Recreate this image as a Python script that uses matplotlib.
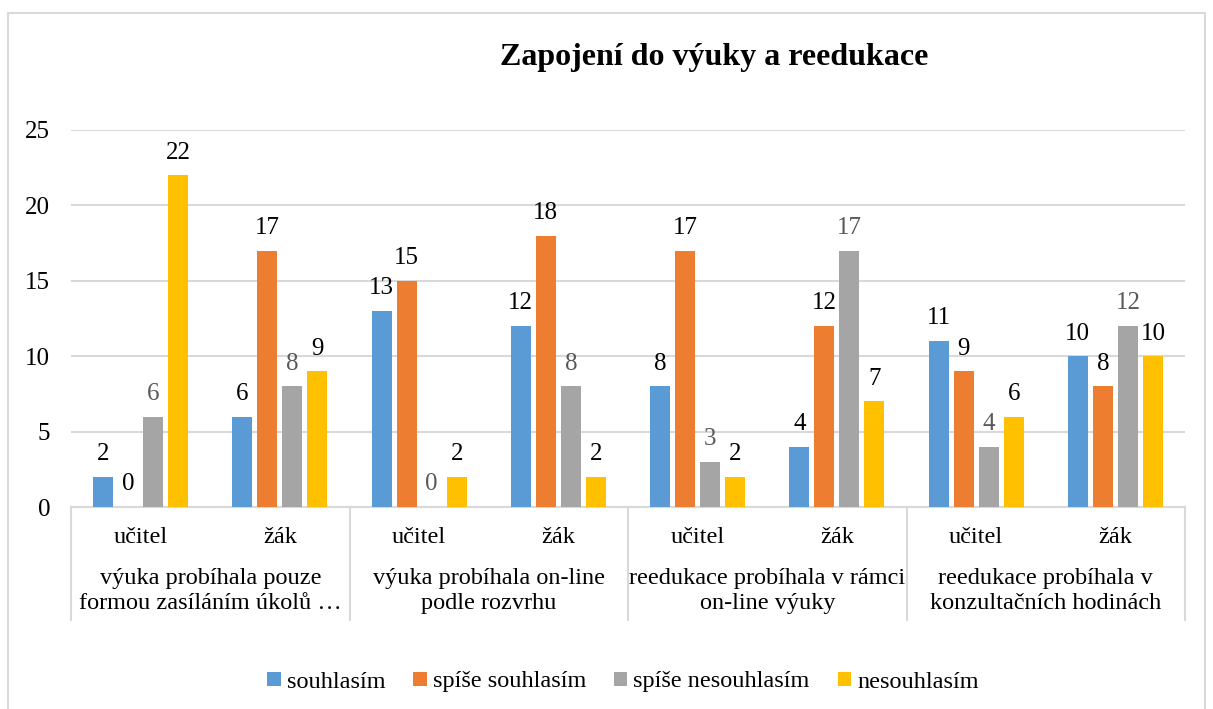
import numpy as np
import matplotlib
matplotlib.use('Agg')
import matplotlib.pyplot as plt
from matplotlib.patches import Rectangle
import matplotlib.transforms as mtransforms

plt.rcParams['font.family'] = ['Liberation Serif', 'DejaVu Serif']

#%% data
groups = ['výuka probíhala pouze\nformou zasíláním úkolů …',
          'výuka probíhala on-line\npodle rozvrhu',
          'reedukace probíhala v rámci\non-line výuky',
          'reedukace probíhala v\nkonzultačních hodinách']
subcats = ['učitel', 'žák'] * 4

series = ['souhlasím', 'spíše souhlasím', 'spíše nesouhlasím', 'nesouhlasím']
souhlasim = [2, 6, 13, 12, 8, 4, 11, 10]
spise_souhlasim = [0, 17, 15, 18, 17, 12, 9, 8]
spise_nesouhlasim = [6, 8, 0, 8, 3, 17, 4, 12]
nesouhlasim = [22, 9, 2, 2, 2, 7, 6, 10]
values = [souhlasim, spise_souhlasim, spise_nesouhlasim, nesouhlasim]

colors = ['#5B9BD5', '#ED7D31', '#A5A5A5', '#FFC000']
label_colors = ['#000000', '#000000', '#595959', '#000000']
grid_color = '#D9D9D9'

#%% figure
fig = plt.figure(figsize=(12.13, 7.09), dpi=100)
ax = fig.add_axes([71/1213, 1 - 507/709, 1114/1213, 377/709])

x = np.arange(len(subcats))
step = 0.18
width = 0.144
for i, (name, vals) in enumerate(zip(series, values)):
    pos = x + (i - 1.5) * step
    ax.bar(pos, vals, width=width, color=colors[i], label=name, zorder=3)
    for px, v in zip(pos, vals):
        ax.annotate(str(v), (px, v), xytext=(0, 12), textcoords='offset points',
                    ha='center', va='baseline', fontsize=18, color=label_colors[i])

ax.set_xlim(-0.5, len(subcats) - 0.5)
ax.set_ylim(0, 25)
ax.set_yticks(range(0, 26, 5))
ax.yaxis.grid(True, color=grid_color, linewidth=1.5, zorder=0)
ax.set_axisbelow(True)
ax.tick_params(axis='y', length=0, labelsize=18, pad=15)
ax.set_xticks([])
for s in ['top', 'right', 'left']:
    ax.spines[s].set_visible(False)
ax.spines['bottom'].set_color(grid_color)
ax.spines['bottom'].set_linewidth(1.5)

# multi-level category axis
trans = mtransforms.blended_transform_factory(ax.transData, ax.transAxes)
for xi, lab in zip(x, subcats):
    ax.text(xi, -0.08, lab, transform=trans, ha='center', va='center', fontsize=17.5)
for g, lab in enumerate(groups):
    ax.text(2 * g + 0.5, -0.222, lab, transform=trans, ha='center', va='center',
            fontsize=17.5, linespacing=1.25)
for b in np.arange(-0.5, len(subcats), 2):
    ax.plot([b, b], [0, -0.30], transform=trans, color=grid_color, linewidth=1.5,
            clip_on=False)

# title
fig.text(714/1213, 1 - 57/709, 'Zapojení do výuky a reedukace', ha='center', va='center',
         fontsize=23, fontweight='bold')

# legend
ax.legend(loc='center', bbox_to_anchor=(623/1213, 1 - 682/709), bbox_transform=fig.transFigure,
          ncol=4, frameon=False, fontsize=17.5, handlelength=0.55, handleheight=0.55,
          handletextpad=0.25, columnspacing=1.15)

# outer chart border
fig.patches.append(Rectangle((8/1213, -0.05), 1197/1213, 1.05 - 13/709,
                             transform=fig.transFigure, fill=False,
                             edgecolor=grid_color, linewidth=1.5))

fig.savefig('out.png', dpi=100)
